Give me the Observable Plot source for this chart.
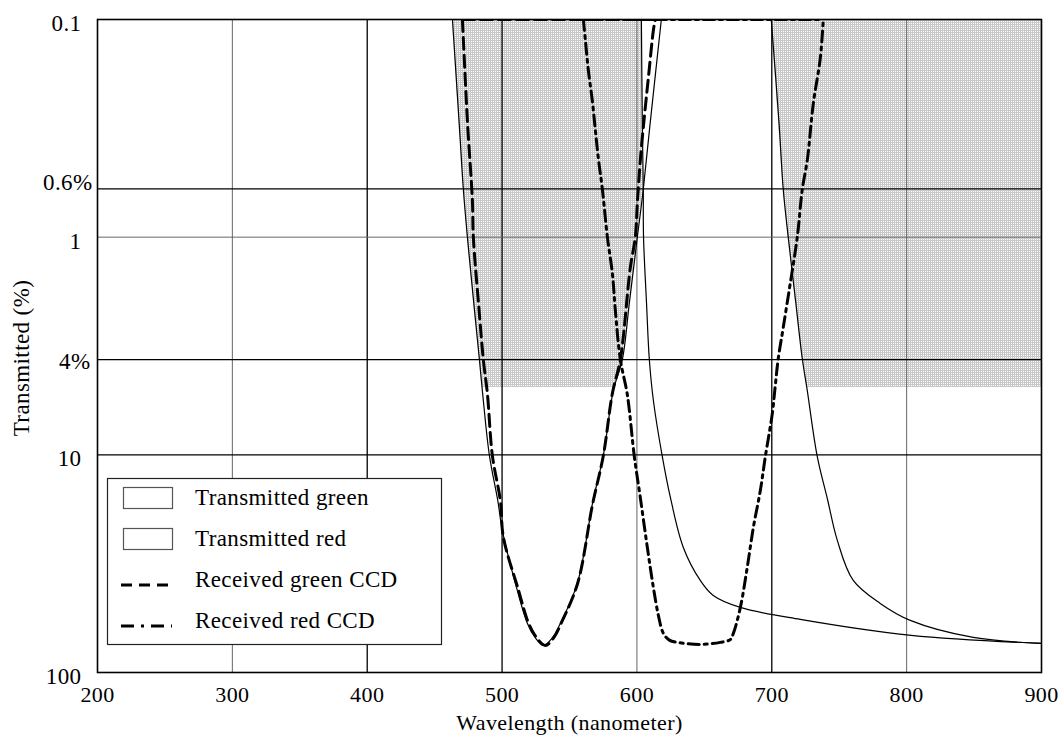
<!DOCTYPE html>
<html><head><meta charset="utf-8">
<script src="https://cdn.jsdelivr.net/npm/d3@7"></script>
<script src="https://cdn.jsdelivr.net/npm/@observablehq/plot@0.6"></script>
<style>
body{margin:0;background:#fff;}
svg text{letter-spacing:0.4px;}
</style>
</head><body><div id="chart"></div>
<script>
// axis ticks
const xTicks = [200,300,400,500,600,700,800,900];
const xGridDark = [400,500,700];
const xGridLight = [300,600,800];
const yTickValues = [0.1,0.6,1,3.65,10,100];
const yTickLabels = ["0.1","0.6%","1","4%","10","100"];
const yGridDark = [0.6,3.65,10];
const yGridLight = [1];

// Transmitted green (thin solid)
const greenTNm = [463.2,468.2,471.3,474.3,479.0,483.2,486.1,490.6,496.8,500.2,511.3,518.8,524.5,530.6,537.5,543.2,555.8,567.5,575.1,582.5,589.2,594.4,600.3,604.7,609.8,618.1];
const greenTVal = [0.1,0.3,0.604,1.0,2.0,3.65,5.63,10.06,16.2,22.25,41.97,59.5,69.0,75.1,69.0,59.5,38.97,16.2,10.06,5.06,3.65,2.0,1.0,0.604,0.3,0.1];
// Transmitted red (two thin solid curves)
const redTLeftNm = [603.3,604.0,604.7,604.9,607.1,609.2,612.2,618.8,624.8,634.4,647.0,656.6,676.7,721.1,803.4,900];
const redTLeftVal = [0.1,0.3,0.604,1.0,2.0,3.65,5.63,10.17,15.69,26.63,37.76,44.25,50.23,57.03,67.5,73.5];
const redTRightNm = [699.6,705.4,708.5,712.2,717.8,722.6,726.3,733.7,741.3,748.6,760.4,780.4,802.7,849.4,900];
const redTRightVal = [0.1,0.3,0.604,1.0,2.0,3.61,5.06,10.17,16.0,24.73,37.76,48.15,57.63,69.0,73.5];
// Received green CCD (dashed)
const greenCNm = [470.6,474.4,478.0,478.7,482.5,486.1,489.1,492.8,498.7,501.0,512.0,519.5,525.5,532.1,538.5,544.0,556.0,567.0,575.1,581.8,587.7,595.1,598.8,600.3,602.5,605.5,608.5,612.2,613.6];
const greenCVal = [0.1,0.3,0.678,1.0,2.0,3.65,5.22,10.06,16.2,23.95,41.5,59.0,69.0,75.1,69.0,59.0,39.0,17.0,10.06,5.22,3.65,1.378,1.0,0.70,0.444,0.28,0.185,0.112,0.1];
// Received red CCD (dash-dot)
const redCNm = [560.3,561.8,564.0,566.9,569.2,571.4,574.4,578.1,581.8,584.0,587.7,592.9,598.0,602.5,607.7,612.2,616.0,619.6,624.0,630.0,647.0,661.8,669.2,671.5,676.7,681.8,686.3,691.5,695.2,700.4,702.6,704.8,708.5,713.7,718.9,722.6,726.3,730.8,736.0,738.2];
const redCVal = [0.1,0.125,0.1715,0.2355,0.3236,0.435,0.604,1.0,1.468,2.171,3.65,5.3,10.1,15.7,26.6,40.7,55,66.1,71,72.7,74.3,72.7,70.6,66.1,50.2,32.9,21.6,14.6,10.2,6.45,4.8,3.61,2.6,1.63,1.0,0.604,0.444,0.243,0.15,0.1];
// shaded regions (value, left nm, right nm)
const greenFillVal = [0.1,0.3,0.6,1,2,3.65,4.9];
const greenFillLeft = [463.2,468.2,471.3,474.3,479.0,483.2,485.2];
const greenFillRight = [603.3,604.0,604.7,600.3,594.4,589.2,583.1];
const redFillVal = [0.1,0.6,1,3.61,4.9];
const redFillLeft = [699.6,708.5,712.2,722.6,725.9];
const redFillRight = [900,900,900,900,900];

const legendLabels = ["Transmitted green","Transmitted red","Received green CCD","Received red CCD"];

const FONT = "Liberation Serif, Times New Roman, serif";
const FS = 23;
const pts = (xs, ys) => xs.map((x,i) => ({x, v: ys[i]}));
const fillRows = (vs, ls, rs) => vs.map((v,i) => ({v, l: ls[i], r: rs[i]}));
const topSeg = (xs) => [{x: xs[0], v: 0.1}, {x: xs[xs.length-1], v: 0.1}];

const fmt = d => yTickLabels[yTickValues.indexOf(d)];
const numTicks = yTickValues.filter((d,i) => !yTickLabels[i].includes("%"));

const dashed = {stroke:"black", strokeWidth:3, strokeDasharray:"12,6", curve:"catmull-rom", clip:true};
const dashdot = {stroke:"black", strokeWidth:3, strokeDasharray:"11,5,3,5", curve:"catmull-rom", clip:true};
const thin = {stroke:"black", strokeWidth:1.2, curve:"catmull-rom", clip:true};

const chart = Plot.plot({
  width:1061, height:740,
  marginLeft:97, marginRight:20, marginTop:19, marginBottom:68,
  style:{fontFamily:FONT, fontSize:FS+"px", background:"white", color:"black"},
  x:{domain:[200,900]},
  y:{type:"log", domain:[0.1,100], reverse:true},
  marks:[
    Plot.areaX(fillRows(greenFillVal, greenFillLeft, greenFillRight), {y:"v", x1:"l", x2:"r", fill:"url(#stip)"}),
    Plot.areaX(fillRows(redFillVal, redFillLeft, redFillRight), {y:"v", x1:"l", x2:"r", fill:"url(#stip)"}),
    Plot.ruleX(xGridLight, {stroke:"#666", strokeWidth:1}),
    Plot.ruleX(xGridDark, {stroke:"#000", strokeWidth:1.3}),
    Plot.ruleY(yGridLight, {stroke:"#666", strokeWidth:1}),
    Plot.ruleY(yGridDark, {stroke:"#000", strokeWidth:1.3}),
    Plot.line(pts(greenTNm, greenTVal), {x:"x", y:"v", ...thin}),
    Plot.line(pts(redTLeftNm, redTLeftVal), {x:"x", y:"v", ...thin}),
    Plot.line(pts(redTRightNm, redTRightVal), {x:"x", y:"v", ...thin}),
    Plot.line(pts(greenCNm, greenCVal), {x:"x", y:"v", ...dashed}),
    Plot.line(topSeg(greenCNm), {x:"x", y:"v", ...dashed, curve:"linear"}),
    Plot.line(pts(redCNm, redCVal), {x:"x", y:"v", ...dashdot}),
    Plot.line(topSeg(redCNm), {x:"x", y:"v", ...dashdot, curve:"linear"}),
    Plot.frame({stroke:"black", strokeWidth:1.6}),
    Plot.axisX({ticks:xTicks, tickSize:0, tickPadding:14, label:null, fontSize:22, fill:"black", tickFormat:d=>String(d)}),
    Plot.axisY(numTicks, {tickSize:0, tickPadding:16, dy:4, label:null, fontSize:FS, fill:"black", tickFormat:fmt}),
    Plot.axisY([yTickValues[1]], {tickSize:0, tickPadding:5, dy:-6, label:null, fontSize:FS, fill:"black", tickFormat:fmt}),
    Plot.axisY([yTickValues[3]], {tickSize:0, tickPadding:7, dy:2, label:null, fontSize:FS, fill:"black", tickFormat:fmt}),
    Plot.text(["Wavelength (nanometer)"], {frameAnchor:"bottom", dy:50, lineAnchor:"middle", textAnchor:"middle", fontSize:22, fill:"black", text:d=>d}),
    Plot.text(["Transmitted (%)"], {frameAnchor:"left", dx:-76, dy:12, rotate:-90, textAnchor:"middle", lineAnchor:"middle", fontSize:FS, fill:"black", text:d=>d})
  ]
});

chart.insertAdjacentHTML("afterbegin",
  '<defs><pattern id="stip" width="2" height="2" patternUnits="userSpaceOnUse">' +
  '<rect width="2" height="2" fill="#c8c8c8"/><rect x="1" y="1" width="1" height="1" fill="#ffffff"/></pattern></defs>');

// legend
const svg = d3.select(chart);
const lg = svg.append("g").attr("font-family",FONT).attr("font-size",FS+"px").attr("text-anchor","start");
lg.append("rect").attr("x",107.5).attr("y",478.5).attr("width",334).attr("height",166).attr("fill","white").attr("stroke","#222").attr("stroke-width",1.2);
const rowY = [498, 539, 580, 621];
legendLabels.forEach((t,i) => {
  const y = rowY[i];
  if (i < 2) {
    lg.append("rect").attr("x",123.5).attr("y",y-10.5).attr("width",49).attr("height",21).attr("fill","white").attr("stroke","#555").attr("stroke-width",1.2);
  } else {
    lg.append("line").attr("x1",121).attr("x2",172).attr("y1",y+5).attr("y2",y+5).attr("stroke","black").attr("stroke-width",3)
      .attr("stroke-dasharray", i===2 ? "11,7" : "13,7,3,7");
  }
  lg.append("text").attr("x",195).attr("y",y+7).attr("text-anchor","start").attr("fill","black").text(t);
});

document.getElementById("chart").appendChild(chart);
</script>
</body></html>
